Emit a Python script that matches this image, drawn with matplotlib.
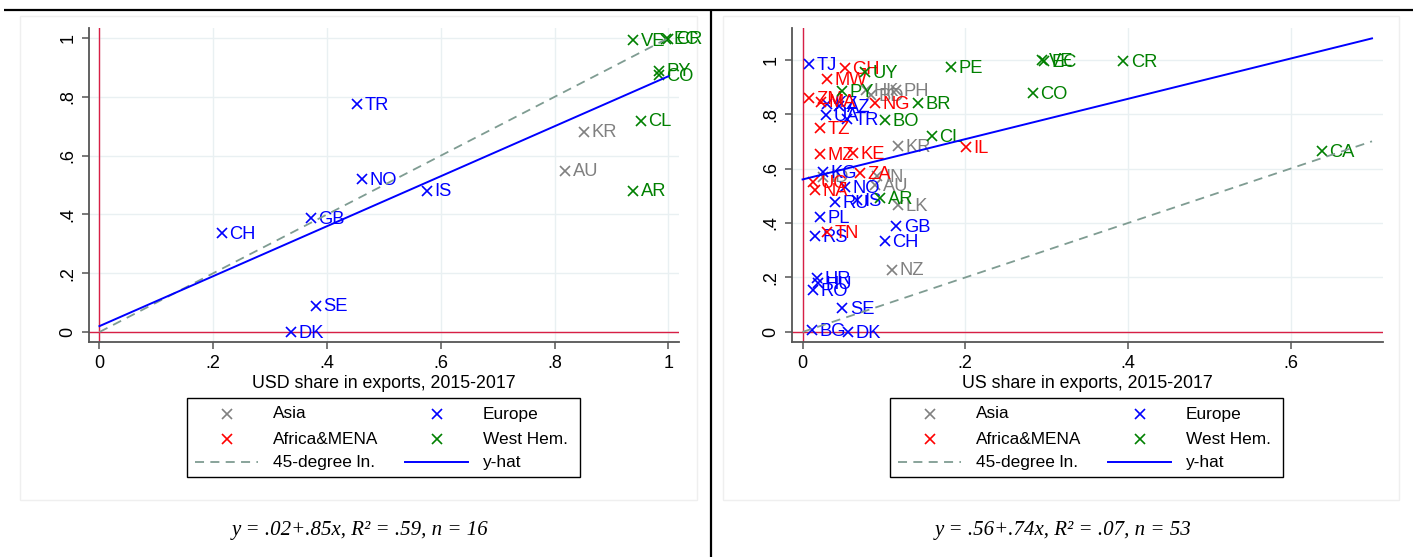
import matplotlib
matplotlib.use("Agg")
import matplotlib.pyplot as plt
from matplotlib.patches import Rectangle

plt.rcParams['font.family'] = ['Liberation Sans', 'DejaVu Sans']

# ---------------- data: left panel (USD share) ----------------
L_asia_lab = ["KR", "AU"]
L_asia_x = [0.852, 0.818]
L_asia_y = [0.681, 0.549]

L_eur_lab = ["TR", "NO", "IS", "GB", "CH", "SE", "DK"]
L_eur_x = [0.452, 0.462, 0.575, 0.371, 0.215, 0.380, 0.336]
L_eur_y = [0.775, 0.520, 0.481, 0.388, 0.336, 0.089, 0.000]

L_afr_lab = []
L_afr_x = []
L_afr_y = []

L_west_lab = ["VE", "EC", "CR", "PY", "CO", "CL", "AR"]
L_west_x = [0.938, 0.995, 1.000, 0.983, 0.983, 0.951, 0.938]
L_west_y = [0.993, 0.997, 0.997, 0.889, 0.874, 0.719, 0.481]

L_fit_a, L_fit_b = 0.02, 0.85
L_fit_range = [0.0, 1.0]
L_formula = "y = .02+.85x, R² = .59, n = 16"
L_xlabel = "USD share in exports, 2015-2017"

# ---------------- data: right panel (US share) ----------------
R_asia_lab = ["PH", "HK", "BD", "KR", "IN", "AU", "ID", "LK", "NZ"]
R_asia_x = [0.115, 0.078, 0.084, 0.117, 0.092, 0.089, 0.025, 0.117, 0.110]
R_asia_y = [0.888, 0.888, 0.870, 0.683, 0.572, 0.539, 0.570, 0.466, 0.228]

R_eur_lab = ["TJ", "KZ", "AZ", "UA", "TR", "KG", "NO", "RU", "IS", "PL",
             "RS", "GB", "CH", "HR", "HU", "RO", "SE", "BG", "DK"]
R_eur_x = [0.008, 0.030, 0.045, 0.029, 0.055, 0.025, 0.052, 0.040, 0.067, 0.021,
           0.015, 0.115, 0.101, 0.018, 0.019, 0.013, 0.049, 0.011, 0.056]
R_eur_y = [0.983, 0.838, 0.830, 0.797, 0.782, 0.587, 0.532, 0.477, 0.484, 0.422,
           0.352, 0.389, 0.334, 0.198, 0.180, 0.154, 0.088, 0.007, 0.000]

R_afr_lab = ["GH", "MW", "ZM", "MA", "NG", "TZ", "MZ", "KE", "ZA", "UG",
             "NA", "TN", "IL"]
R_afr_x = [0.052, 0.030, 0.008, 0.023, 0.089, 0.021, 0.021, 0.062, 0.070, 0.013,
           0.015, 0.030, 0.201]
R_afr_y = [0.969, 0.928, 0.859, 0.845, 0.840, 0.749, 0.653, 0.657, 0.583, 0.550,
           0.521, 0.367, 0.679]

R_west_lab = ["UY", "PY", "BR", "BO", "CL", "AR", "PE", "VE", "EC", "CR", "CO", "CA"]
R_west_x = [0.077, 0.048, 0.142, 0.101, 0.159, 0.095, 0.182, 0.294, 0.297, 0.394,
            0.283, 0.638]
R_west_y = [0.954, 0.884, 0.840, 0.778, 0.719, 0.492, 0.972, 0.998, 0.995, 0.994,
            0.877, 0.664]

R_fit_a, R_fit_b = 0.56, 0.74
R_fit_range = [0.0, 0.70]
R_formula = "y = .56+.74x, R² = .07, n = 53"
R_xlabel = "US share in exports, 2015-2017"

tick_vals = [0, 0.2, 0.4, 0.6, 0.8, 1.0]
tick_labs = ["0", ".2", ".4", ".6", ".8", "1"]

legend_labels = ["Asia", "Europe", "Africa&MENA", "West Hem.", "45-degree ln.", "y-hat"]

# ---------------- styles ----------------
C_ASIA = "#808080"
C_EUR = "#0000ff"
C_AFR = "#ff0000"
C_WEST = "#008000"
C_45 = "#7f9c92"
C_FIT = "#0000ff"
C_REF = "#d81f45"
C_GRID = "#e9f0f2"
C_AX = "#555555"

W, H = 1416, 557
fig = plt.figure(figsize=(W / 100, H / 100), dpi=100)


def px_axes(x0, y0, x1, y1, **kw):
    return fig.add_axes([x0 / W, 1 - y1 / H, (x1 - x0) / W, (y1 - y0) / H], **kw)


def panel(ax, groups, xlim, ylim, xticks, xticklabs, fit_a, fit_b, fit_range, xlabel):
    ax.set_xlim(*xlim)
    ax.set_ylim(*ylim)
    ax.set_xticks(xticks)
    ax.set_xticklabels(xticklabs)
    ax.set_yticks(tick_vals)
    ax.set_yticklabels(tick_labs, rotation=90, va="center")
    ax.grid(True, color=C_GRID, lw=1.0)
    ax.set_axisbelow(True)
    for s in ["top", "right"]:
        ax.spines[s].set_visible(False)
    for s in ["left", "bottom"]:
        ax.spines[s].set_color(C_AX)
        ax.spines[s].set_linewidth(1.3)
    ax.tick_params(axis="both", direction="out", length=5, width=1.1, color=C_AX,
                   labelsize=13, pad=4)
    ax.axhline(0, color=C_REF, lw=1.0, zorder=1)
    ax.axvline(0, color=C_REF, lw=1.0, zorder=1)
    for labs, xs, ys, col in groups:
        ax.plot(xs, ys, ls="none", marker="x", ms=7, mew=1.2, color=col, zorder=3,
                clip_on=False)
        for lab, x, y in zip(labs, xs, ys):
            ax.annotate(lab, (x, y), xytext=(5.5, -0.8), textcoords="offset points",
                        va="center", ha="left", color=col, fontsize=13.2, zorder=3,
                        annotation_clip=False)
    ax.plot(fit_range, fit_range, ls=(0, (5, 3.5)), color=C_45, lw=1.3, zorder=4)
    ax.plot(fit_range, [fit_a + fit_b * v for v in fit_range], color=C_FIT, lw=1.4, zorder=4)
    ax.set_xlabel(xlabel, fontsize=12.8, labelpad=2)


axL = px_axes(89.2, 28.3, 679.3, 342.3)
panel(axL,
      [(L_asia_lab, L_asia_x, L_asia_y, C_ASIA),
       (L_eur_lab, L_eur_x, L_eur_y, C_EUR),
       (L_afr_lab, L_afr_x, L_afr_y, C_AFR),
       (L_west_lab, L_west_x, L_west_y, C_WEST)],
      (-0.018, 1.019), (-0.035, 1.033), tick_vals, tick_labs,
      L_fit_a, L_fit_b, L_fit_range, L_xlabel)

axR = px_axes(792, 28.3, 1383, 342.3)
panel(axR,
      [(R_asia_lab, R_asia_x, R_asia_y, C_ASIA),
       (R_eur_lab, R_eur_x, R_eur_y, C_EUR),
       (R_afr_lab, R_afr_x, R_afr_y, C_AFR),
       (R_west_lab, R_west_x, R_west_y, C_WEST)],
      (-0.013, 0.7135), (-0.038, 1.115), [0, 0.2, 0.4, 0.6], ["0", ".2", ".4", ".6"],
      R_fit_a, R_fit_b, R_fit_range, R_xlabel)

# ---------------- overlay: frames, legends, formulas ----------------
ov = fig.add_axes([0, 0, 1, 1], zorder=-5)
ov.set_xlim(0, W)
ov.set_ylim(H, 0)
ov.axis("off")

ov2 = fig.add_axes([0, 0, 1, 1], zorder=10)
ov2.set_xlim(0, W)
ov2.set_ylim(H, 0)
ov2.axis("off")
ov2.patch.set_alpha(0)

# faint graph-region frames
for x0, x1 in [(20, 697), (723, 1399)]:
    ov.add_patch(Rectangle((x0, 16), x1 - x0, 500 - 16, fill=False, ec="#efefef", lw=1))

# table rules
ov2.plot([4, 1413], [9.5, 9.5], color="black", lw=1.6, solid_capstyle="butt")
ov2.plot([711, 711], [9.5, 557], color="black", lw=1.6, solid_capstyle="butt")

legend_cols = [C_ASIA, C_EUR, C_AFR, C_WEST]
for dx in [0, 703]:
    ov2.add_patch(Rectangle((187 + dx, 398), 393, 79, fill=False, ec="black", lw=1.0))
    rows = [414, 439, 462]
    cols_m = [227 + dx, 437 + dx]
    cols_t = [273 + dx, 483 + dx]
    for i in range(4):
        r, c = divmod(i, 2)
        ov2.plot([cols_m[c]], [rows[r]], ls="none", marker="x", ms=7, mew=1.2,
                 color=legend_cols[i])
        ov2.text(cols_t[c], rows[r], legend_labels[i], fontsize=12.4, va="center", ha="left")
    ov2.plot([195 + dx, 258 + dx], [rows[2], rows[2]], ls=(0, (5, 3.5)), color=C_45, lw=1.3)
    ov2.text(cols_t[0], rows[2], legend_labels[4], fontsize=12.4, va="center", ha="left")
    ov2.plot([405 + dx, 468 + dx], [rows[2], rows[2]], color=C_FIT, lw=1.4)
    ov2.text(cols_t[1], rows[2], legend_labels[5], fontsize=12.4, va="center", ha="left")

ov2.text(360, 531, L_formula, fontsize=15, family=["Liberation Serif", "DejaVu Serif"],
         style="italic", ha="center", va="center")
ov2.text(1063, 531, R_formula, fontsize=15, family=["Liberation Serif", "DejaVu Serif"],
         style="italic", ha="center", va="center")

fig.savefig("out.png", dpi=100)
